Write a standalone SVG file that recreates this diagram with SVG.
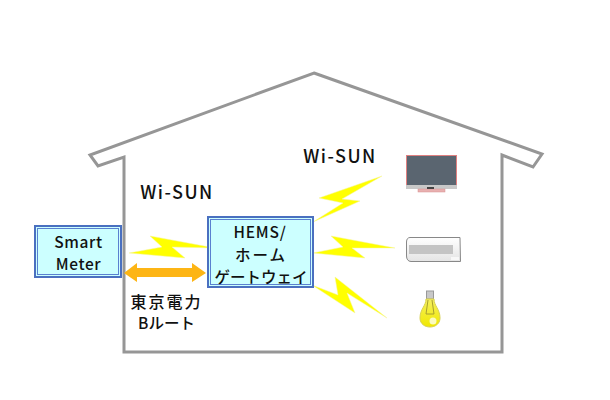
<svg xmlns="http://www.w3.org/2000/svg" width="610" height="400" viewBox="0 0 610 400">
<style>
.t{font-family:"Noto Sans CJK JP","Liberation Sans",sans-serif;fill:#111;text-anchor:middle;font-weight:500}
.w{font-size:18px;letter-spacing:1.500px}
.m{font-size:15.500px}
.box{fill:#ccffff;stroke:#4a70c0;stroke-width:2}
.in{fill:none;stroke:#5a80d0;stroke-width:1}
.bolt{fill:#ffff00;stroke:#f4f4a0;stroke-width:.5}
</style>
<defs><linearGradient id="bulb" x1="0" y1="0" x2="0" y2="1"><stop offset="0" stop-color="#f5f060"/><stop offset="1" stop-color="#f0e800"/></linearGradient>
<linearGradient id="ac" x1="0" y1="0" x2="0" y2="1"><stop offset="0" stop-color="#ffffff"/><stop offset="1" stop-color="#e4e4e4"/></linearGradient></defs>
<rect width="610" height="400" fill="#fff"/>
<g id="house"><path d="M314 73L542 154L533 167L502 155V352H124V157L98 166L90 155Z" fill="#fff" stroke="#969696" stroke-width="3"/></g>
<g id="connectors">
<path class="bolt" d="M129 253L162 247L150 236L215 248L172 247L185 258Z"/>
<path class="bolt" d="M313 222L343 203L319 198L382 176L342 199L360 201Z"/>
<path class="bolt" d="M313 253L343 247L331 236L395 248L352 248L365 258Z"/>
<path class="bolt" d="M312 285L338 295L335 277L387 318L347 293L355 313Z"/>
<path d="M124 273L137 263V268H192V263L206 273L192 282V277H137V282Z" fill="#fdb515"/>
</g>
<g id="smart-meter"><rect class="box" x="35" y="226" width="86" height="51"/><rect class="in" x="37.500" y="228.500" width="81" height="46"/>
<text class="t m" x="78.500" y="248" letter-spacing=".6">Smart</text><text class="t m" x="78.500" y="270" letter-spacing=".6">Meter</text></g>
<g id="gateway"><rect class="box" x="208" y="217" width="105" height="70"/><rect class="in" x="210.500" y="219.500" width="100" height="65"/>
<text class="t" x="260" y="238" font-size="15.500" letter-spacing=".8">HEMS/</text><text class="t" x="261" y="261" font-size="15.500" letter-spacing="2">ホーム</text><text class="t" x="261" y="283" font-size="15.500">ゲートウェイ</text></g>
<g id="labels"><text class="t w" x="177" y="199">Wi-SUN</text><text class="t w" x="340" y="163">Wi-SUN</text>
<text class="t" x="166.500" y="308" font-size="16" letter-spacing="2">東京電力</text><text class="t" x="166.500" y="329" font-size="15.500">Bルート</text></g>
<g id="tv"><rect x="406.500" y="155.500" width="50" height="30" fill="#5a6570" stroke="#e08080"/><rect x="406" y="185" width="51" height="4" fill="#c8c8c8"/><rect x="418" y="189" width="27" height="3" fill="#e8b0b0" stroke="#d89090" stroke-width=".5"/><rect x="427" y="187" width="7" height="2" fill="#444"/></g>
<g id="aircon"><path d="M410 237.500H460L460.500 261.500H411C408 261.500 406.500 259 406.500 256V242C406.500 239 408 237.500 410 237.500Z" fill="url(#ac)" stroke="#888"/><rect x="409" y="245" width="44" height="9" fill="#c4c4c4"/><rect x="451" y="257" width="8" height="3" fill="#f8f8f8"/></g>
<g id="bulb"><rect x="426.500" y="291" width="7" height="8" fill="#c8c8c8" stroke="#999"/><path d="M426 299C426 306 420 309 420 318C420 324 425 327 430 327C435 327 440 324 440 318C440 309 434 306 434 299Z" fill="url(#bulb)" stroke="#d8d050"/><path d="M428 300L426 314H434L432 300" fill="none" stroke="#a8a030"/><circle cx="433" cy="321" r="3.500" fill="#fbfbc0"/></g>
</svg>
